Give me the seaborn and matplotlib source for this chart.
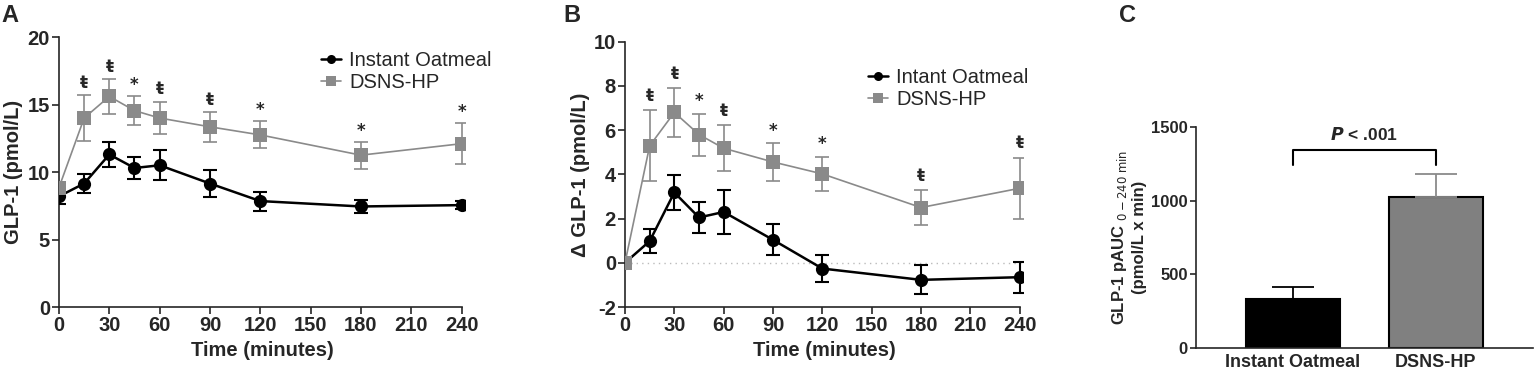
import numpy as np
import matplotlib
matplotlib.use('Agg')
import matplotlib.pyplot as plt
import pandas as pd
import seaborn as sns

# data
time = [0, 15, 30, 45, 60, 90, 120, 180, 240]

# panel A: GLP-1 (pmol/L)
glp_oat = [8.2, 9.15, 11.3, 10.3, 10.5, 9.15, 7.85, 7.45, 7.55]
glp_oat_err = [0.6, 0.7, 0.9, 0.8, 1.1, 1.0, 0.7, 0.5, 0.3]
glp_dsns = [8.85, 14.0, 15.6, 14.55, 14.0, 13.35, 12.75, 11.25, 12.1]
glp_dsns_err = [0.3, 1.7, 1.3, 1.1, 1.2, 1.1, 1.0, 1.0, 1.5]
sig_a = ['', 'ŧ', 'ŧ', '*', 'ŧ', 'ŧ', '*', '*', '*']

# panel B: delta GLP-1
dglp_oat = [0.0, 0.98, 3.18, 2.05, 2.3, 1.04, -0.26, -0.77, -0.65]
dglp_oat_err = [0.2, 0.55, 0.8, 0.7, 1.0, 0.7, 0.6, 0.65, 0.7]
dglp_dsns = [0.0, 5.29, 6.8, 5.8, 5.18, 4.56, 4.02, 2.5, 3.37]
dglp_dsns_err = [0.0, 1.6, 1.1, 0.95, 1.03, 0.85, 0.78, 0.78, 1.38]
sig_b = ['', 'ŧ', 'ŧ', '*', 'ŧ', '*', '*', 'ŧ', 'ŧ']

# panel C: pAUC
groups = ['Instant Oatmeal', 'DSNS-HP']
auc = [330, 1023]
auc_err = [82, 156]

sns.set_style('ticks')
plt.rcParams['font.family'] = ['Liberation Sans', 'DejaVu Sans']

BLACK = '#000000'
GRAY = '#8a8a8a'
FS = 14.5

fig = plt.figure(figsize=(15.36, 3.74), dpi=100)
ax1 = fig.add_axes([0.0384, 0.179, 0.2643, 0.722])
ax2 = fig.add_axes([0.4069, 0.179, 0.2591, 0.7096])
ax3 = fig.add_axes([0.7786, 0.0695, 0.2194, 0.5915])


def time_panel(ax, y1, e1, y2, e2, sig, lab1, leg_anchor):
    df = pd.DataFrame({'t': time * 2,
                       'v': y1 + y2,
                       'g': [lab1] * len(time) + ['DSNS-HP'] * len(time)})
    ax.errorbar(time, y2, yerr=e2, fmt='none', ecolor=GRAY, elinewidth=1.2,
                capsize=5, capthick=1.2, zorder=2)
    ax.errorbar(time, y1, yerr=e1, fmt='none', ecolor=BLACK, elinewidth=1.5,
                capsize=5, capthick=1.5, zorder=3)
    sns.lineplot(data=df, x='t', y='v', hue='g', style='g',
                 palette={lab1: BLACK, 'DSNS-HP': GRAY},
                 markers={lab1: 'o', 'DSNS-HP': 's'}, dashes=False,
                 markersize=9.5, markeredgewidth=0,
                 ax=ax, zorder=4, legend=True)
    for ln in ax.lines:
        if ln.get_color() == GRAY:
            ln.set_linewidth(1.2)
        else:
            ln.set_linewidth(1.8)
    for t, v, e, s in zip(time, y2, e2, sig):
        if s:
            ax.text(t, v + e + 0.25 * (1 if s == 'ŧ' else 0.6), s,
                    ha='center', va='bottom', fontsize=12, fontweight='bold',
                    family='DejaVu Sans')
    ax.set_xlim(0, 242)
    ax.set_xticks(np.arange(0, 241, 30))
    ax.set_xlabel('Time (minutes)', fontsize=FS, fontweight='bold', labelpad=4)
    ax.tick_params(labelsize=FS, length=5, width=1.2, pad=1.5)
    for lb in ax.get_xticklabels() + ax.get_yticklabels():
        lb.set_fontweight('bold')
    sns.despine(ax=ax)
    ax.spines['left'].set_linewidth(1.2)
    ax.spines['bottom'].set_linewidth(1.2)
    ax.spines['bottom'].set_bounds(0, 240)
    leg = ax.legend(loc='upper right', bbox_to_anchor=leg_anchor, frameon=False,
                    fontsize=FS, handlelength=1.0, handletextpad=0.4,
                    labelspacing=0.15, borderaxespad=0.3)
    for h in leg.legend_handles:
        h.set_markersize(6.5)


time_panel(ax1, glp_oat, glp_oat_err, glp_dsns, glp_dsns_err, sig_a,
           'Instant Oatmeal', (1.1, 1.0))
ax1.set_ylim(0, 20)
ax1.set_yticks([0, 5, 10, 15, 20])
ax1.set_yticklabels(['0', '5', '10', '15', '20'], fontweight='bold')
ax1.set_ylabel('GLP-1 (pmol/L)', fontsize=FS, fontweight='bold', labelpad=3)

time_panel(ax2, dglp_oat, dglp_oat_err, dglp_dsns, dglp_dsns_err, sig_b,
           'Intant Oatmeal', (1.05, 0.955))
ax2.axhline(0, color='#bbbbbb', lw=1, ls=(0, (1, 3)), zorder=1)
ax2.set_ylim(-2, 10)
ax2.set_yticks([-2, 0, 2, 4, 6, 8, 10])
ax2.set_yticklabels(['-2', '0', '2', '4', '6', '8', '10'], fontweight='bold')
ax2.set_ylabel('Δ GLP-1 (pmol/L)', fontsize=FS, fontweight='bold', labelpad=3)

# panel C
dfc = pd.DataFrame({'g': groups, 'v': auc})
sns.barplot(data=dfc, x='g', y='v', hue='g', palette=[BLACK, '#808080'],
            width=0.66, edgecolor=BLACK, linewidth=1.5, ax=ax3, legend=False)
ax3.errorbar([0], [auc[0]], yerr=[[0], [auc_err[0]]], fmt='none', ecolor=BLACK,
             elinewidth=1.3, capsize=15, capthick=1.3)
ax3.errorbar([1], [auc[1]], yerr=[[0], [auc_err[1]]], fmt='none', ecolor=GRAY,
             elinewidth=1.3, capsize=15, capthick=1.3)
ax3.plot([0, 0, 1, 1], [1240, 1340, 1340, 1240], color=BLACK, lw=1.5)
ax3.text(0.5, 1390, r'$\mathbfit{P}$' + ' < .001', ha='center', va='bottom',
         fontsize=12.5, fontweight='bold')
ax3.set_xlim(-0.68, 1.68)
ax3.set_ylim(0, 1500)
ax3.set_yticks([0, 500, 1000, 1500])
ax3.set_xlabel('')
ax3.set_ylabel('GLP-1 pAUC $_{\\mathrm{0-240\\ min}}$\n(pmol/L x min)', fontsize=12,
               fontweight='bold', labelpad=3)
ax3.tick_params(labelsize=12, length=4, width=1.2, pad=2)
ax3.tick_params(axis='x', length=0, pad=4, labelsize=13)
for lb in ax3.get_xticklabels() + ax3.get_yticklabels():
    lb.set_fontweight('bold')
sns.despine(ax=ax3)
ax3.spines['left'].set_linewidth(1.2)
ax3.spines['bottom'].set_linewidth(1.2)

# panel letters
fig.text(0.001, 0.99, 'A', fontsize=17, fontweight='bold', va='top')
fig.text(0.367, 0.99, 'B', fontsize=17, fontweight='bold', va='top')
fig.text(0.7285, 0.99, 'C', fontsize=17, fontweight='bold', va='top')

plt.savefig('out.png', dpi=100)
